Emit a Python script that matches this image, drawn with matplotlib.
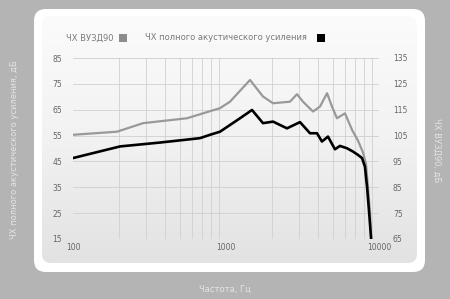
import numpy as np
import matplotlib
matplotlib.use("Agg")
import matplotlib.pyplot as plt
from matplotlib.patches import FancyBboxPatch, Rectangle

plt.rcParams['font.family'] = ['Liberation Sans Narrow', 'DejaVu Sans']

# Data
freq_gray = [100, 194, 287, 556, 914, 1062, 1435, 1745, 2029, 2618, 2911, 3186, 3704,
             4114, 4575, 4930, 5310, 5995, 6665, 7295, 7855, 8225, 8475, 8735, 8870]
level_gray = [55.3, 56.5, 59.8, 61.7, 65.6, 68.1, 76.5, 70.1, 67.5, 68.1, 71.0, 68.1, 64.3,
              66.2, 71.4, 66.2, 61.7, 63.6, 57.2, 53.0, 48.5, 44.0, 35.0, 25.0, 16.0]
freq_black = [100, 203, 370, 676, 786, 914, 1235, 1479, 1745, 2029, 2504, 3046, 3540, 3934,
              4238, 4641, 5155, 5555, 6175, 6765, 7295, 7745, 8090, 8350, 8600, 8870]
level_black = [46.3, 50.8, 52.3, 54.0, 55.3, 56.5, 61.7, 64.9, 59.8, 60.4, 57.8, 60.2, 55.9, 55.9,
               52.7, 54.6, 49.7, 51.0, 50.1, 48.8, 47.5, 46.3, 43.0, 35.3, 26.0, 15.5]

left_ticks = [15, 25, 35, 45, 55, 65, 75, 85]
right_ticks = [65, 75, 85, 95, 105, 115, 125, 135]
x_ticks = [100, 1000, 10000]
x_ticklabels = ['100', '1000', '10000']
legend_labels = ['ЧХ ВУЗД90', 'ЧХ полного акустического усиления']
left_label = 'ЧХ полного акустического усиления, дБ'
right_label = 'ЧХ ВУЗД90, дБ'
x_label = 'Частота, Гц'

W, H = 450, 299
fig = plt.figure(figsize=(W / 100, H / 100), dpi=100)
fig.patch.set_facecolor('#b4b4b4')

# background axes in pixel coords
bg = fig.add_axes([0, 0, 1, 1])
bg.set_xlim(0, W)
bg.set_ylim(H, 0)
bg.axis('off')
outer = FancyBboxPatch((34, 9), 391, 263, boxstyle="round,pad=0,rounding_size=12",
                       facecolor='white', edgecolor='none')
bg.add_patch(outer)
inner = FancyBboxPatch((42, 16), 375, 247, boxstyle="round,pad=0,rounding_size=9",
                       facecolor='none', edgecolor='none')
bg.add_patch(inner)
grad = np.linspace(0, 1, 256).reshape(-1, 1)
from matplotlib.colors import LinearSegmentedColormap
cmap = LinearSegmentedColormap.from_list('g', ['#fbfbfb', '#f2f2f2', '#e2e2e2'])
im = bg.imshow(grad, extent=(42, 417, 263, 16), cmap=cmap, aspect='auto', zorder=1)
im.set_clip_path(inner)

# legend
txtc = '#7a7a7a'
bg.text(66, 38, legend_labels[0], fontsize=6, color=txtc, va='center', ha='left', zorder=3)
bg.add_patch(Rectangle((119, 34), 8, 8, facecolor='#8c8c8c', edgecolor='none', zorder=3))
bg.text(145, 38, legend_labels[1], fontsize=6, color=txtc, va='center', ha='left', zorder=3)
bg.add_patch(Rectangle((317, 34), 8, 8, facecolor='black', edgecolor='none', zorder=3))

# outside labels
labc = '#e4e4e4'
bg.text(15, 150, left_label, rotation=90, fontsize=6, color=labc, ha='center', va='center')
bg.text(437, 150, right_label, rotation=270, fontsize=6, color=labc, ha='center', va='center')
bg.text(225, 289, x_label, fontsize=6, color=labc, ha='center', va='center')

# main axes
x0, x1 = 73, 379
y0, y1 = 58, 239
ax = fig.add_axes([x0 / W, 1 - y1 / H, (x1 - x0) / W, (y1 - y0) / H])
ax.set_facecolor('none')
ax.set_xscale('log')
ax.set_xlim(100, 10000)
ax.set_ylim(15, 85)
for s in ax.spines.values():
    s.set_visible(False)

ax.set_yticks(left_ticks)
ax.set_yticklabels([str(t) for t in left_ticks])
ax.set_xticks(x_ticks)
ax.set_xticklabels(x_ticklabels)
ax.tick_params(axis='both', which='both', length=0, labelsize=5.5, labelcolor='#666666')
ax.tick_params(axis='y', pad=8)
ax.tick_params(axis='x', pad=3)
ax.grid(True, axis='y', color='#cfcfcf', linewidth=0.6)
ax.grid(True, axis='x', which='minor', color='#d0d0d0', linewidth=0.6)
ax.xaxis.set_minor_formatter(matplotlib.ticker.NullFormatter())

ax.plot(freq_gray, level_gray, color='#999999', linewidth=1.6, zorder=3)
ax.plot(freq_black, level_black, color='black', linewidth=1.9, zorder=4)

ax2 = ax.twinx()
ax2.set_ylim(65, 135)
ax2.set_yticks(right_ticks)
ax2.set_yticklabels([str(t) for t in right_ticks])
ax2.tick_params(axis='y', length=0, labelsize=5.5, labelcolor='#666666', pad=10)
for s in ax2.spines.values():
    s.set_visible(False)

fig.savefig('out.png', dpi=100, facecolor=fig.get_facecolor())
